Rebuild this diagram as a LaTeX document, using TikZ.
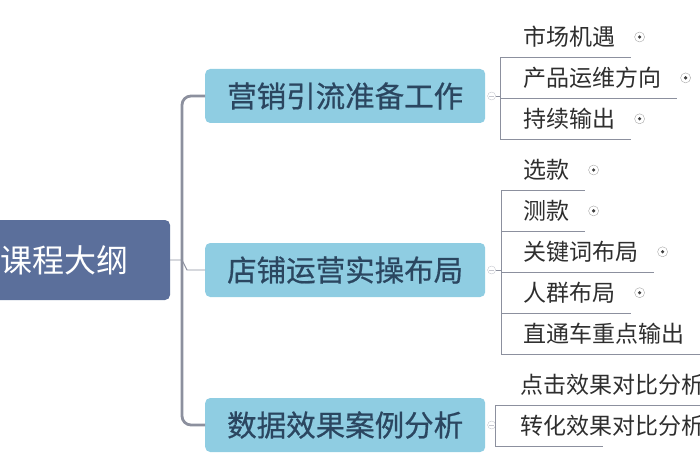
\documentclass[tikz,border=0pt]{standalone}
\usepackage{fontspec}
\newfontfamily\cjk{Noto Sans CJK SC}
\newfontfamily\cjkheavy{Noto Sans CJK SC}[FakeBold=0.6]
\usetikzlibrary{positioning}

\definecolor{rootblue}{HTML}{5B6F9B}
\definecolor{skyblue}{HTML}{8FCDE2}
\definecolor{branchtext}{HTML}{2B4660}
\definecolor{leaftext}{HTML}{2E2E2E}
\definecolor{linkgray}{HTML}{8C909E}

\tikzstyle{rootbox} = [rectangle, rounded corners=5pt, fill=rootblue, text=white, minimum width=212pt, minimum height=80pt, font=\cjk\fontsize{32}{38}\selectfont]
\tikzstyle{branch} = [rectangle, rounded corners=5pt, fill=skyblue, text=branchtext, minimum width=280pt, minimum height=54pt, inner xsep=20pt, font=\cjkheavy\fontsize{29.5}{34}\selectfont]
\tikzstyle{leaf} = [inner sep=0pt, minimum height=40.5pt, text=leaftext, font=\cjk\fontsize{23}{28}\selectfont]
\tikzstyle{link} = [draw=linkgray, line width=0.9pt]
\tikzstyle{bus} = [draw=linkgray, line width=2.8pt, rounded corners=9pt]
\tikzstyle{fold} = [circle, draw=linkgray!50, fill=white, inner sep=0pt, minimum size=8pt, path picture={\draw[linkgray!50] ([xshift=-2.5pt]path picture bounding box.center) -- ([xshift=2.5pt]path picture bounding box.center);}]
\tikzstyle{dot} = [circle, draw=gray!70, fill=white, inner sep=0pt, minimum size=10pt, path picture={\fill[darkgray] (path picture bounding box.center) circle (1.8pt);}]

\begin{document}
\begin{tikzpicture}[x=1pt, y=-1pt, node distance=0pt]
\useasboundingbox (0,0) rectangle (700,470);

% root and main branches
\node (root) [rootbox] at (64,260) {课程大纲};
\node (br1) [branch, anchor=west] at (205,96) {营销引流准备工作};
\node (br2) [branch, anchor=west] at (205,270) {店铺运营实操布局};
\node (br3) [branch, anchor=west] at (205,425) {数据效果案例分析};

\coordinate (bus) at (182,260);
\draw[bus] (br1.west) -| (bus) |- (br3.west);
\draw[link] (root.east) -- (bus) -- ++(5,10) -- (br2.west);

% fold markers
\node (f1) [fold, right=2pt of br1] {};
\node (f2) [fold, right=2pt of br2] {};
\node (f3) [fold, right=2pt of br3] {};
\coordinate (k1) at (500,96);
\coordinate (k2) at (501,270);
\coordinate (k3) at (495,425);
\draw[link] (f1) -- (k1);
\draw[link] (f2) -- (k2);
\draw[link] (f3) -- (k3);

% group 1
\node (l11) [leaf, anchor=west] at (523,37) {市场机遇};
\node (l12) [leaf, below=of l11.south west, anchor=north west] {产品运维方向};
\node (l13) [leaf, below=of l12.south west, anchor=north west] {持续输出};
\draw[link] (k1 |- l11.south) -- (k1 |- l13.south);
\foreach \l in {l11,l12,l13}
  \draw[link] (k1 |- \l.south) -- ([xshift=16pt]\l.south east);

% group 2
\node (l21) [leaf, anchor=west] at (523,170) {选款};
\node (l22) [leaf, below=of l21.south west, anchor=north west] {测款};
\node (l23) [leaf, below=of l22.south west, anchor=north west] {关键词布局};
\node (l24) [leaf, below=of l23.south west, anchor=north west] {人群布局};
\node (l25) [leaf, below=of l24.south west, anchor=north west] {直通车重点输出};
\draw[link] (k2 |- l21.south) -- (k2 |- l25.south);
\foreach \l in {l21,l22,l23,l24,l25}
  \draw[link] (k2 |- \l.south) -- ([xshift=16pt]\l.south east);

% group 3
\node (l31) [leaf, anchor=west] at (520,385) {点击效果对比分析};
\node (l32) [leaf, below=of l31.south west, anchor=north west] {转化效果对比分析};
\draw[link] (k3 |- l31.south) -- (k3 |- l32.south);
\draw[link] (k3 |- l31.south) -- ([xshift=16pt]l31.south east);
\draw[link] (k3 |- l32.south) -- ([xshift=83pt]l32.south west);

% leaf markers
\foreach \l in {l11,l12,l13,l21,l22,l23,l24}
  \node (d\l) [dot, right=19pt of \l] {};
\end{tikzpicture}
\end{document}
